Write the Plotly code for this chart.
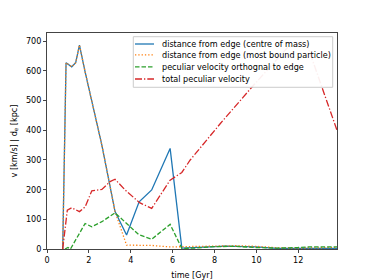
import plotly.graph_objects as go

# time axis shared by the distance series [Gyr]
t = [0.75, 0.91, 1.18, 1.37, 1.55, 1.82, 2.62, 3.25, 3.8, 4.4, 5.0, 5.88, 6.44,
     7.0, 8.0, 8.5, 9.0, 10.0, 11.0, 12.0, 13.0, 13.85]
d_com = [0, 628, 614, 628, 687, 597, 350, 126, 47, 159, 199, 339, 3,
         4, 8, 10, 9, 7, 2, 1, 2, 2]
d_mbp = [0, 628, 614, 628, 687, 597, 350, 126, 13, 12, 12, 7, 8,
         10, 11, 12, 11, 9, 4, 3, 4, 5]
t_orth = [0.86, 1.0, 1.12, 1.82, 2.14, 2.62, 3.25, 3.89, 4.37, 5.0, 5.88, 6.44,
          7.0, 8.0, 9.0, 10.0, 11.0, 12.0, 12.5, 13.85]
v_orth = [0, 5, 0, 86, 75, 92, 122, 81, 49, 33, 83, 2,
          3, 8, 9, 5, 3, 5, 7, 7]
t_tot = [0.75, 0.97, 1.18, 1.55, 1.82, 2.14, 2.62, 3.01, 3.25, 3.73, 4.42, 5.0,
         5.88, 6.44, 6.84, 8.28, 9.79, 11.5, 12.4, 13.14, 13.85]
v_tot = [0, 131, 139, 126, 142, 196, 201, 227, 235, 199, 156, 137,
         232, 258, 300, 423, 546, 680, 693, 546, 400]

names = ["distance from edge (centre of mass)",
         "distance from edge (most bound particle)",
         "peculiar velocity orthognal to edge",
         "total peculiar velocity"]
colors = ["#1f77b4", "#ff7f0e", "#2ca02c", "#d62728"]
dashes = ["solid", "1.3px,2px", "4.5px,2px", "7px,2px,1.3px,2px"]
series = [(t, d_com), (t, d_mbp), (t_orth, v_orth), (t_tot, v_tot)]

fig = go.Figure()
for (xs, ys), nm, c, d in zip(series, names, colors, dashes):
    fig.add_trace(go.Scatter(x=xs, y=ys, mode="lines", name=nm, showlegend=False,
                             hoverinfo="skip",
                             line=dict(color=c, width=1.3, dash=d)))

font = dict(family="DejaVu Sans", size=8.1, color="black")

W, H = 374, 280
L, R, T, B = 47, 337, 33, 249
def px(x):
    return (x - L) / (R - L)
def py(y):
    return (B - y) / (B - T)

fig.add_shape(type="rect", xref="paper", yref="paper", layer="above",
              x0=px(133.3), x1=px(332.7), y0=py(87.3), y1=py(36.7),
              fillcolor="white", opacity=0.93,
              line=dict(color="#c8c8c8", width=1))
annotations = []
row_y = [44, 54.8, 66.8, 79]
for ry, nm, c, d in zip(row_y, names, colors, dashes):
    fig.add_shape(type="line", xref="paper", yref="paper", layer="above",
                  x0=px(135), x1=px(154), y0=py(ry), y1=py(ry),
                  line=dict(color=c, width=1.3, dash=d))
    annotations.append(dict(xref="paper", yref="paper", x=px(159.5), y=py(ry),
                            xanchor="left", yanchor="middle", text=nm,
                            showarrow=False, font=font))

axis_common = dict(showline=True, linecolor="#444", linewidth=1, mirror=True,
                   ticks="outside", ticklen=3, tickcolor="#444", tickwidth=1,
                   showgrid=False, zeroline=False, tickfont=font)
fig.update_layout(
    width=W, height=H,
    margin=dict(l=L, r=W - R, t=T, b=H - B, autoexpand=False),
    paper_bgcolor="white", plot_bgcolor="white",
    font=font,
    hovermode=False,
    xaxis=dict(range=[0, 13.85], tickvals=[0, 2, 4, 6, 8, 10, 12],
               title=dict(text="time [Gyr]", font=font, standoff=12), **axis_common),
    yaxis=dict(range=[0, 728], tickvals=[0, 100, 200, 300, 400, 500, 600, 700],
               title=dict(text="v [km/s] | d<sub>e</sub> [kpc]", font=font, standoff=7),
               **axis_common),
    annotations=annotations,
    showlegend=False,
)
fig.write_html("out.html", config={"displayModeBar": False},
               post_script="document.body.style.margin='0';document.body.style.overflow='hidden';")
